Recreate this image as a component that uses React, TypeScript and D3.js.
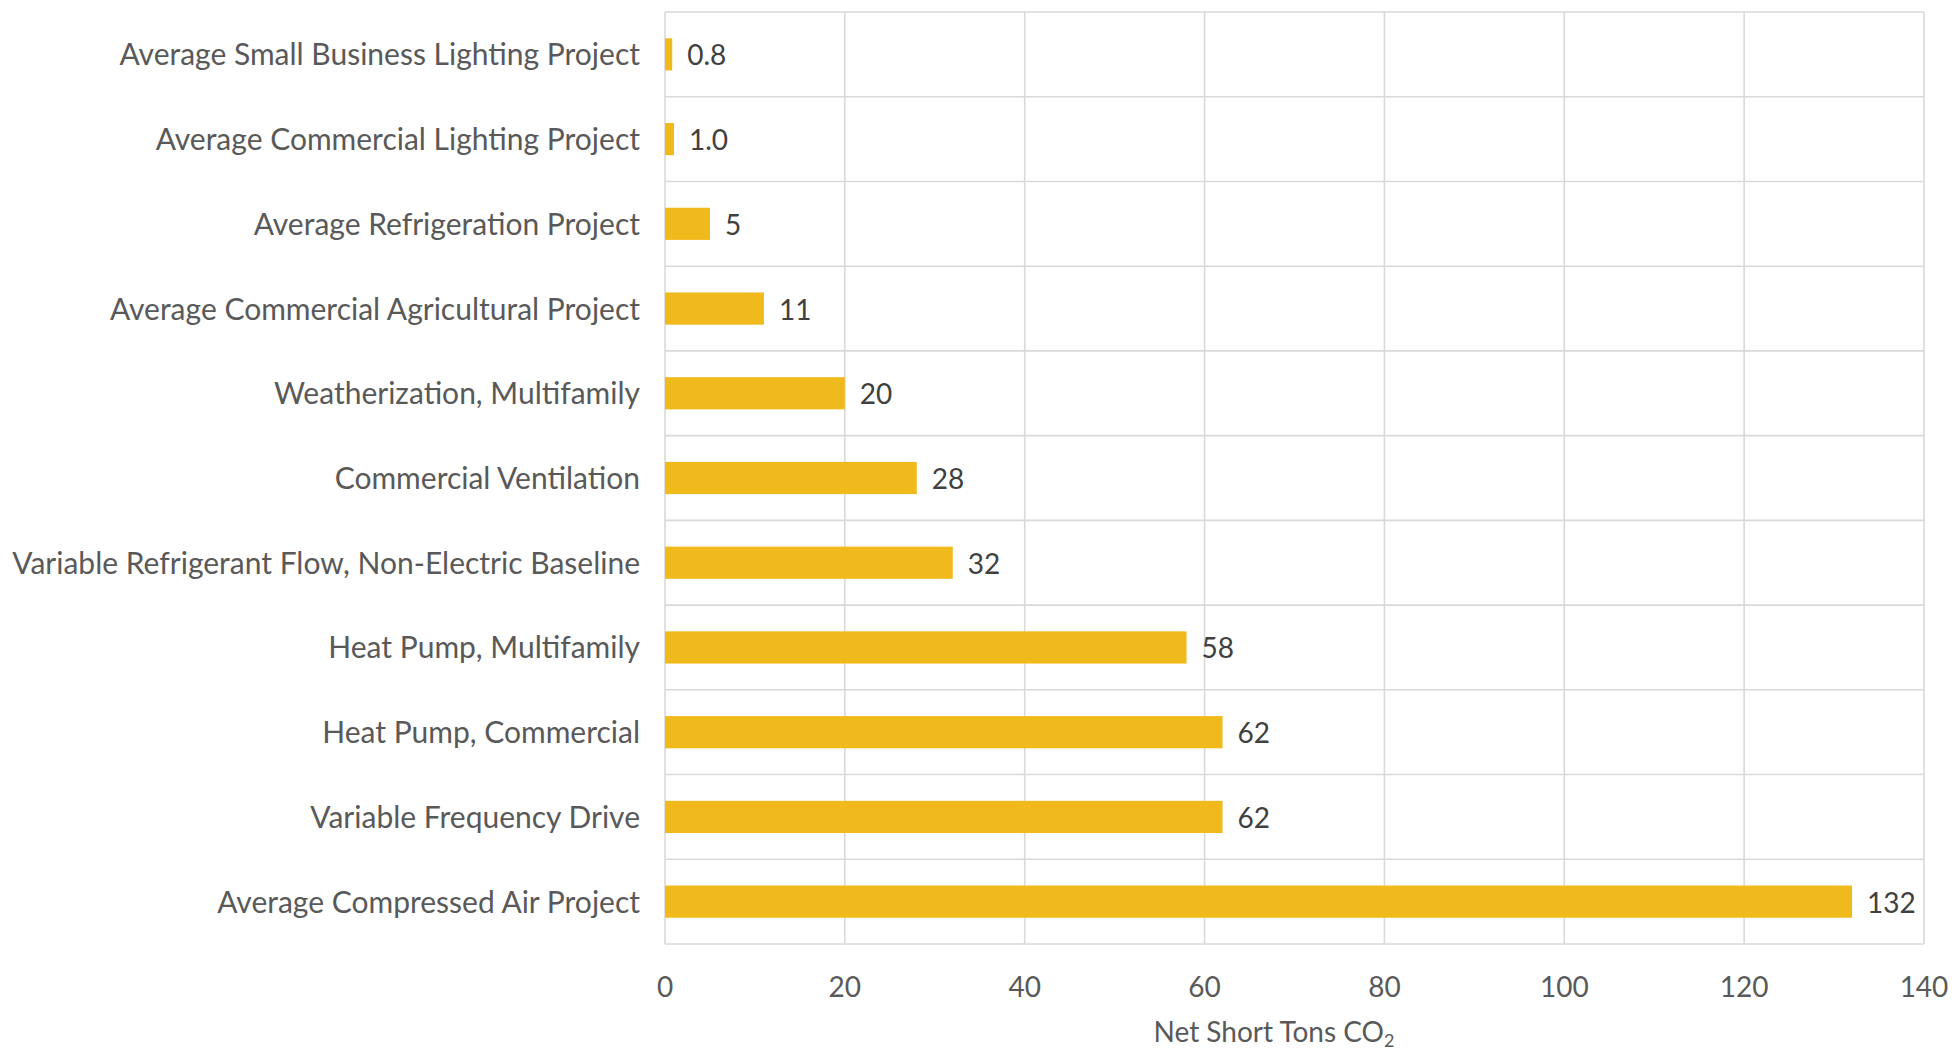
import React from "react";
import * as d3 from "d3";

const categories = [
  "Average Small Business Lighting Project",
  "Average Commercial Lighting Project",
  "Average Refrigeration Project",
  "Average Commercial Agricultural Project",
  "Weatherization, Multifamily",
  "Commercial Ventilation",
  "Variable Refrigerant Flow, Non-Electric Baseline",
  "Heat Pump, Multifamily",
  "Heat Pump, Commercial",
  "Variable Frequency Drive",
  "Average Compressed Air Project",
];
const values = [0.8, 1.0, 5, 11, 20, 28, 32, 58, 62, 62, 132];
const valueLabels = ["0.8", "1.0", "5", "11", "20", "28", "32", "58", "62", "62", "132"];
const xTicks = [0, 20, 40, 60, 80, 100, 120, 140];

const W = 1954;
const H = 1052;
const M = { left: 665, right: 1924, top: 12, bottom: 944 };
const FONT = "Lato, 'Open Sans', sans-serif";
const BAR = "#F0BA1D";
const GRID = "#D9D9D9";

export default function App() {
  const x = d3.scaleLinear().domain([0, 140]).range([M.left, M.right]);
  const rows = d3.scaleBand<string>().domain(categories).range([M.top, M.bottom]);
  const y = d3
    .scaleBand<string>()
    .domain(categories)
    .range([M.top, M.bottom])
    .paddingInner(0.62)
    .paddingOuter(0.31);

  const boundaries = d3.range(categories.length + 1).map((i) => M.top + i * rows.step());

  return (
    <svg
      width={W}
      height={H}
      style={{ position: "absolute", left: 0, top: 0, background: "#fff" }}
      fontFamily={FONT}
    >
      {/* gridlines */}
      {xTicks.map((t) => (
        <line key={"v" + t} x1={x(t)} x2={x(t)} y1={M.top} y2={M.bottom} stroke={GRID} strokeWidth={1.6} />
      ))}
      {boundaries.map((b, i) => (
        <line key={"h" + i} x1={M.left} x2={M.right} y1={b} y2={b} stroke={GRID} strokeWidth={1.6} />
      ))}

      {/* bars */}
      {categories.map((c, i) => (
        <rect
          key={c}
          x={x(0)}
          y={y(c)}
          width={x(values[i]) - x(0)}
          height={y.bandwidth()}
          fill={BAR}
        />
      ))}

      {/* value labels */}
      {categories.map((c, i) => (
        <text
          key={"l" + c}
          x={x(values[i]) + 15}
          y={(rows(c) as number) + rows.bandwidth() / 2 + 11}
          fontSize={28}
          fill="#404040"
        >
          {valueLabels[i]}
        </text>
      ))}

      {/* category labels */}
      {categories.map((c) => (
        <text
          key={"c" + c}
          x={640}
          y={(rows(c) as number) + rows.bandwidth() / 2 + 11}
          fontSize={30}
          fill="#595959"
          textAnchor="end"
        >
          {c}
        </text>
      ))}

      {/* x tick labels */}
      {xTicks.map((t) => (
        <text key={"t" + t} x={x(t)} y={997} fontSize={28} fill="#595959" textAnchor="middle">
          {t}
        </text>
      ))}

      {/* axis title */}
      <text x={1274} y={1042} fontSize={28} fill="#595959" textAnchor="middle">
        Net Short Tons CO
        <tspan fontSize={18} dy={5}>
          2
        </tspan>
      </text>
    </svg>
  );
}
